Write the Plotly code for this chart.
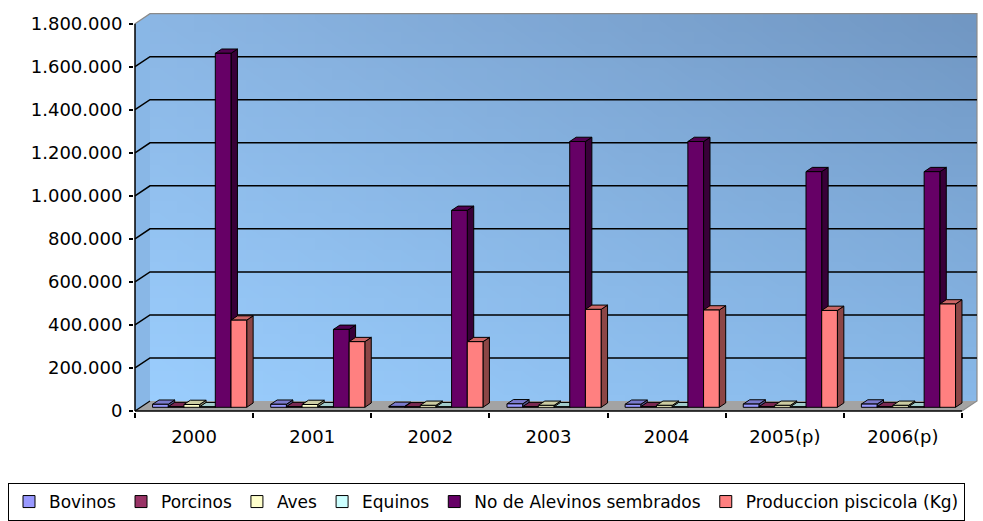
import base64
import struct
import zlib

import plotly.graph_objects as go

# ---------------------------------------------------------------- data
years = ["2000", "2001", "2002", "2003", "2004", "2005(p)", "2006(p)"]
series_names = [
    "Bovinos",
    "Porcinos",
    "Aves",
    "Equinos",
    "No de Alevinos sembrados",
    "Produccion piscicola (Kg)",
]
bovinos = [14000, 14000, 4000, 16000, 14000, 15000, 15000]
porcinos = [3000, 3000, 2000, 3000, 3000, 3000, 3000]
aves = [13000, 13000, 9000, 9000, 9000, 9000, 9000]
equinos = [2500, 2500, 2500, 2500, 2500, 2500, 2500]
alevinos = [1645000, 362000, 915000, 1235000, 1235000, 1095000, 1095000]
produccion = [405000, 305000, 305000, 455000, 452000, 450000, 480000]
y_ticks = [0, 200000, 400000, 600000, 800000, 1000000, 1200000, 1400000, 1600000, 1800000]

series_values = [bovinos, porcinos, aves, equinos, alevinos, produccion]
front_colors = ["#9999FF", "#993366", "#FFFFCC", "#CCFFFF", "#660066", "#FF8080"]

# ---------------------------------------------------------------- geometry
W, H = 983, 521
ML, MR, MT, MB = 134, 5, 13, 109
PLOT_W = W - ML - MR
PLOT_H = H - MT - MB

PX_PER_CAT = 118.14          # pixels per category on the front plane
PX_PER_VAL = 215.2 / 1e6     # pixels per unit of value
FRONT_LEFT_PX = 135          # x pixel of the front vertical axis
FRONT_ZERO_PX = 411          # y pixel of the front floor edge

x_lo = -0.5 - (FRONT_LEFT_PX - ML) / PX_PER_CAT
x_hi = x_lo + PLOT_W / PX_PER_CAT
y_lo = -((MT + PLOT_H) - FRONT_ZERO_PX) / PX_PER_VAL
y_hi = y_lo + PLOT_H / PX_PER_VAL

# oblique depth of the 3-D box (back wall offset from the front plane)
DX = 15 / PX_PER_CAT
DY = 10 / PX_PER_VAL

n_cat = len(years)
n_ser = len(series_names)
x_left, x_right = -0.5, n_cat - 0.5
y_top = y_ticks[-1]

# bar slots: front faces sit part way into the box, with a small depth
GAP_PX = 24
bar_w = (PX_PER_CAT - GAP_PX) / n_ser / PX_PER_CAT
BAR_FRONT = 0.37
BAR_DEPTH = 0.43
bar_base = BAR_FRONT * DY
bar_shift = BAR_FRONT * DX
ddx = BAR_DEPTH * DX
ddy = BAR_DEPTH * DY


def shade(hex_color, k):
    h = hex_color.lstrip("#")
    r, g, b = (int(h[i:i + 2], 16) for i in (0, 2, 4))
    return "#%02x%02x%02x" % (int(r * k), int(g * k), int(b * k))


def gradient_png(w, h, tl, tr, bl, br):
    """Small PNG with a bilinear blend of four corner colours."""
    def rgb(c):
        c = c.lstrip("#")
        return [int(c[i:i + 2], 16) for i in (0, 2, 4)]

    tl, tr, bl, br = rgb(tl), rgb(tr), rgb(bl), rgb(br)
    raw = bytearray()
    for j in range(h):
        v = j / (h - 1)
        raw.append(0)
        for i in range(w):
            u = i / (w - 1)
            for c in range(3):
                top = tl[c] * (1 - u) + tr[c] * u
                bot = bl[c] * (1 - u) + br[c] * u
                raw.append(int(round(top * (1 - v) + bot * v)))

    def chunk(tag, data):
        body = tag + data
        return struct.pack(">I", len(data)) + body + struct.pack(">I", zlib.crc32(body) & 0xFFFFFFFF)

    png = b"\x89PNG\r\n\x1a\n"
    png += chunk(b"IHDR", struct.pack(">IIBBBBB", w, h, 8, 2, 0, 0, 0))
    png += chunk(b"IDAT", zlib.compress(bytes(raw), 9))
    png += chunk(b"IEND", b"")
    return "data:image/png;base64," + base64.b64encode(png).decode()


def path(points):
    return "M " + " L ".join("%.6f,%.3f" % p for p in points) + " Z"


def line_path(points):
    return "M " + " L ".join("%.6f,%.3f" % p for p in points)


def to_paper_x(x):
    return (x - x_lo) / (x_hi - x_lo)


def to_paper_y(y):
    return (y - y_lo) / (y_hi - y_lo)


fig = go.Figure()

# ---------------------------------------------------------------- bars (front faces)
positions = list(range(n_cat))
for k, (name, vals, col) in enumerate(zip(series_names, series_values, front_colors)):
    offset = -0.5 + (GAP_PX / 2) / PX_PER_CAT + k * bar_w + bar_shift
    fig.add_trace(go.Bar(
        name=name,
        x=positions,
        y=vals,
        base=[bar_base] * n_cat,
        offset=offset,
        width=bar_w,
        marker=dict(color=col, line=dict(color="#000000", width=1)),
        customdata=years,
        hovertemplate="%{customdata}<br>" + name + ": %{y:,d}<extra></extra>",
    ))

shapes = []

# left side wall
shapes.append(dict(
    type="path", xref="x", yref="y", layer="below",
    path=path([(x_left, 0), (x_left + DX, DY), (x_left + DX, y_top + DY), (x_left, y_top)]),
    fillcolor="#89b7e6", line=dict(width=0),
))
# floor
shapes.append(dict(
    type="path", xref="x", yref="y", layer="below",
    path=path([(x_left, 0), (x_right, 0), (x_right + DX, DY), (x_left + DX, DY)]),
    fillcolor="#a3a3a3", line=dict(width=0),
))
# back wall border and the top edge of the side wall
shapes.append(dict(
    type="path", xref="x", yref="y", layer="below",
    path=line_path([(x_left, y_top), (x_left + DX, y_top + DY), (x_right + DX, y_top + DY),
                    (x_right + DX, DY), (x_right, 0)]),
    line=dict(color="#8a8a8a", width=1.2),
))
# gridlines folded across side and back wall
for v in y_ticks[1:-1]:
    shapes.append(dict(
        type="path", xref="x", yref="y", layer="below",
        path=line_path([(x_left, v), (x_left + DX, v + DY), (x_right + DX, v + DY)]),
        line=dict(color="#000000", width=1.5),
    ))
# left edge of the floor
shapes.append(dict(
    type="path", xref="x", yref="y", layer="below",
    path=line_path([(x_left, 0), (x_left + DX, DY)]),
    line=dict(color="#000000", width=1.2),
))

# side and top faces of every bar
for k, (vals, col) in enumerate(zip(series_values, front_colors)):
    offset = -0.5 + (GAP_PX / 2) / PX_PER_CAT + k * bar_w + bar_shift
    side_col = shade(col, 0.55)
    top_col = shade(col, 0.8)
    for i, v in enumerate(vals):
        x0 = positions[i] + offset
        x1 = x0 + bar_w
        yb = bar_base
        yt = bar_base + v
        shapes.append(dict(
            type="path", xref="x", yref="y", layer="below",
            path=path([(x1, yb), (x1 + ddx, yb + ddy), (x1 + ddx, yt + ddy), (x1, yt)]),
            fillcolor=side_col, line=dict(color="#000000", width=1),
        ))
        shapes.append(dict(
            type="path", xref="x", yref="y", layer="below",
            path=path([(x0, yt), (x0 + ddx, yt + ddy), (x1 + ddx, yt + ddy), (x1, yt)]),
            fillcolor=top_col, line=dict(color="#000000", width=1),
        ))

# front axis lines
shapes.append(dict(
    type="line", xref="x", yref="y", layer="above",
    x0=x_left, x1=x_left, y0=0, y1=y_top,
    line=dict(color="#000000", width=1.5),
))
shapes.append(dict(
    type="line", xref="x", yref="y", layer="above",
    x0=x_left, x1=x_right, y0=0, y1=0,
    line=dict(color="#000000", width=1.5),
))

# back wall gradient
wall_img = gradient_png(48, 32, "#8bb6e4", "#7197c3", "#9acdfd", "#88b8e8")
img_x0 = to_paper_x(x_left + DX)
img_x1 = to_paper_x(x_right + DX)
img_y0 = to_paper_y(DY)
img_y1 = to_paper_y(y_top + DY)

fig.update_layout(
    width=W,
    height=H,
    margin=dict(l=ML, r=MR, t=MT, b=MB, autoexpand=False),
    paper_bgcolor="#ffffff",
    plot_bgcolor="#ffffff",
    barmode="overlay",
    separators=",.",
    font=dict(family="DejaVu Sans", size=18, color="#000000"),
    shapes=shapes,
    images=[dict(
        source=wall_img, xref="paper", yref="paper",
        x=img_x0, y=img_y1, sizex=img_x1 - img_x0, sizey=img_y1 - img_y0,
        xanchor="left", yanchor="top", sizing="stretch", layer="below",
    )],
    xaxis=dict(
        range=[x_lo, x_hi],
        tickmode="array",
        tickvals=positions,
        ticktext=years,
        ticks="",
        showgrid=False,
        zeroline=False,
        showline=False,
        automargin=False,
        ticklabelstandoff=12,
        tickfont=dict(family="DejaVu Sans", size=18, color="#000000"),
        minor=dict(
            tickmode="array",
            tickvals=[p - 0.5 for p in positions] + [positions[-1] + 0.5],
            ticks="outside", ticklen=5, tickwidth=1.5, tickcolor="#000000",
            showgrid=False,
        ),
        fixedrange=True,
    ),
    yaxis=dict(
        range=[y_lo, y_hi],
        tickmode="array",
        tickvals=y_ticks,
        tickformat=",d",
        ticks="outside",
        ticklen=4,
        tickwidth=1.5,
        tickcolor="#000000",
        showgrid=False,
        zeroline=False,
        showline=False,
        automargin=False,
        ticklabelstandoff=3,
        tickfont=dict(family="DejaVu Sans", size=18, color="#000000"),
        fixedrange=True,
    ),
    legend=dict(
        orientation="h",
        x=(8 - ML) / PLOT_W,
        y=((MT + PLOT_H) - 483) / PLOT_H,
        xanchor="left",
        yanchor="top",
        bgcolor="#ffffff",
        bordercolor="#000000",
        borderwidth=1,
        font=dict(family="DejaVu Sans", size=17, color="#000000"),
        traceorder="normal",
    ),
)

fig.write_html("out.html")
